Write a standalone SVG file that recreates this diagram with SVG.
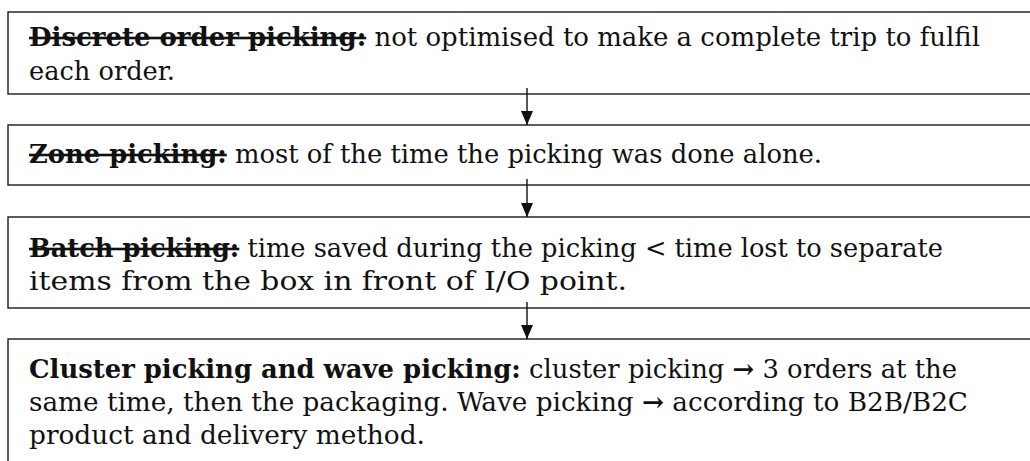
<svg xmlns="http://www.w3.org/2000/svg" width="1030" height="461" viewBox="0 0 1030 461">
  <style>
    .box { fill: #ffffff; stroke: #1a1a1a; stroke-width: 1.4; }
    .txt { font-family: "DejaVu Serif Condensed", "DejaVu Serif", serif; font-size: 26px; fill: #111111; }
    .hd { font-weight: bold; }
    .strike { text-decoration: line-through; }
    .conn { stroke: #111111; stroke-width: 1.4; fill: none; }
  </style>
  <defs>
    <marker id="arrow" viewBox="0 0 14 12" refX="14" refY="6" markerWidth="14" markerHeight="12" markerUnits="userSpaceOnUse" orient="auto">
      <path d="M0,0 L14,6 L0,12 Z" fill="#111111"/>
    </marker>
  </defs>

  <rect x="0" y="0" width="1030" height="461" fill="#ffffff"/>

  <g id="node-discrete">
    <rect class="box" x="8" y="12" width="1040" height="82"/>
    <text class="txt" x="29" y="46" textLength="951" lengthAdjust="spacingAndGlyphs"><tspan class="hd strike">Discrete order picking:</tspan> not optimised to make a complete trip to fulfil</text>
    <text class="txt" x="29" y="80" textLength="146" lengthAdjust="spacingAndGlyphs">each order.</text>
  </g>

  <g id="node-zone">
    <rect class="box" x="8" y="125" width="1040" height="60"/>
    <text class="txt" x="29" y="163" textLength="793" lengthAdjust="spacingAndGlyphs"><tspan class="hd strike">Zone picking:</tspan> most of the time the picking was done alone.</text>
  </g>

  <g id="node-batch">
    <rect class="box" x="8" y="217" width="1040" height="91"/>
    <text class="txt" x="29" y="257" textLength="914" lengthAdjust="spacingAndGlyphs"><tspan class="hd strike">Batch picking:</tspan> time saved during the picking &lt; time lost to separate</text>
    <text class="txt" x="29" y="290" textLength="598" lengthAdjust="spacingAndGlyphs">items from the box in front of I/O point.</text>
  </g>

  <g id="node-cluster">
    <rect class="box" x="8" y="339" width="1040" height="140"/>
    <text class="txt" x="29" y="378" textLength="928" lengthAdjust="spacingAndGlyphs"><tspan class="hd">Cluster picking and wave picking:</tspan> cluster picking <tspan class="hd">→</tspan> 3 orders at the</text>
    <text class="txt" x="29" y="411" textLength="939" lengthAdjust="spacingAndGlyphs">same time, then the packaging. Wave picking <tspan class="hd">→</tspan> according to B2B/B2C</text>
    <text class="txt" x="29" y="444" textLength="396" lengthAdjust="spacingAndGlyphs">product and delivery method.</text>
  </g>

  <g id="connectors">
    <line class="conn" x1="527" y1="88" x2="527" y2="125" marker-end="url(#arrow)"/>
    <line class="conn" x1="527" y1="179" x2="527" y2="217" marker-end="url(#arrow)"/>
    <line class="conn" x1="527" y1="302" x2="527" y2="339" marker-end="url(#arrow)"/>
  </g>
</svg>
